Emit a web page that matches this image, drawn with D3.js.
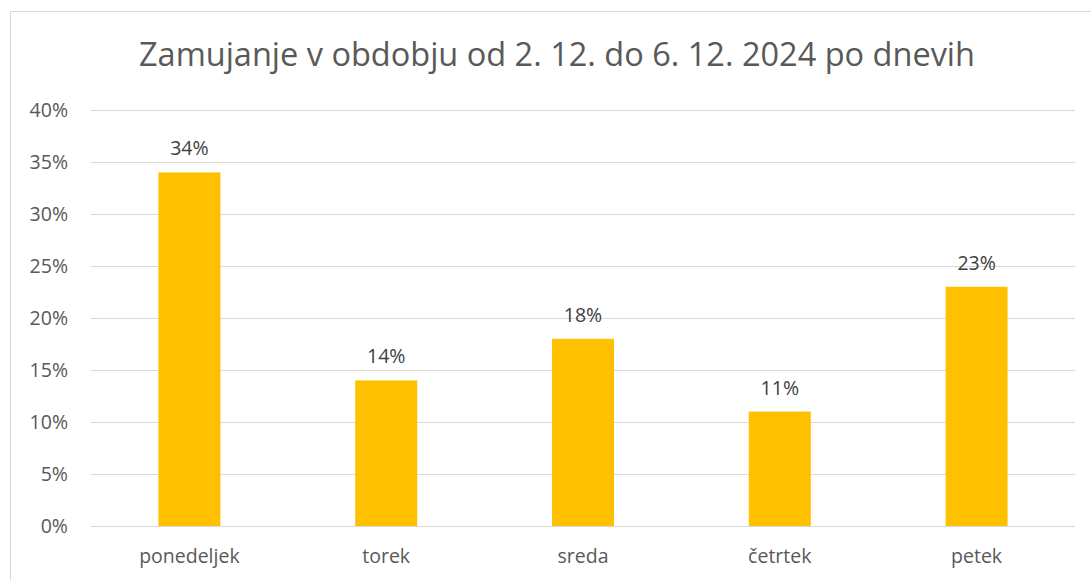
<!DOCTYPE html>
<html lang="sl">
<head>
<meta charset="UTF-8">
<title>Zamujanje po dnevih</title>
<script src="https://d3js.org/d3.v7.min.js"></script>
<style>
  body { margin: 0; background: #fff; }
  svg { display: block; font-family: "Open Sans", "Noto Sans", sans-serif; }
</style>
</head>
<body>
<script>
// data
const days = ["ponedeljek", "torek", "sreda", "četrtek", "petek"];
const lateShare = [0.34, 0.14, 0.18, 0.11, 0.23];
const yTicks = [0, 0.05, 0.10, 0.15, 0.20, 0.25, 0.30, 0.35, 0.40];
const title = "Zamujanje v obdobju od 2. 12. do 6. 12. 2024 po dnevih";

const W = 1091, H = 580;
const svg = d3.select("body").append("svg")
    .attr("width", W)
    .attr("height", H);

// chart frame
svg.append("rect")
    .attr("x", 10.5).attr("y", 11.5)
    .attr("width", W + 10).attr("height", H + 10)
    .attr("fill", "#fff")
    .attr("stroke", "#d9d9d9");

const plot = { left: 91, right: 1075, top: 110, bottom: 526 };

const x = d3.scaleBand()
    .domain(days)
    .range([plot.left, plot.right])
    .paddingInner(0.685)
    .paddingOuter(0.3425);

const y = d3.scaleLinear()
    .domain([0, 0.40])
    .range([plot.bottom, plot.top]);

// gridlines
svg.append("g")
    .selectAll("line")
    .data(yTicks)
    .join("line")
    .attr("x1", plot.left).attr("x2", plot.right)
    .attr("y1", d => Math.round(y(d)) + 0.5)
    .attr("y2", d => Math.round(y(d)) + 0.5)
    .attr("stroke", "#d9d9d9")
    .attr("stroke-width", 1);

// y axis labels
const pct = d3.format(".0%");
svg.append("g")
    .selectAll("text")
    .data(yTicks)
    .join("text")
    .attr("x", 68)
    .attr("y", d => y(d))
    .attr("dy", "0.35em")
    .attr("text-anchor", "end")
    .attr("font-size", 19.5)
    .attr("fill", "#595959")
    .text(d => pct(d));

// bars
svg.append("g")
    .selectAll("rect")
    .data(days)
    .join("rect")
    .attr("x", d => x(d))
    .attr("y", (d, i) => y(lateShare[i]))
    .attr("width", x.bandwidth())
    .attr("height", (d, i) => y(0) - y(lateShare[i]))
    .attr("fill", "#ffc000");

// value labels
svg.append("g")
    .selectAll("text")
    .data(days)
    .join("text")
    .attr("x", d => x(d) + x.bandwidth() / 2)
    .attr("y", (d, i) => y(lateShare[i]) - 17)
    .attr("text-anchor", "middle")
    .attr("font-size", 19.5)
    .attr("fill", "#404040")
    .text((d, i) => pct(lateShare[i]));

// category labels
svg.append("g")
    .selectAll("text")
    .data(days)
    .join("text")
    .attr("x", d => x(d) + x.bandwidth() / 2)
    .attr("y", 563)
    .attr("text-anchor", "middle")
    .attr("font-size", 19.5)
    .attr("fill", "#595959")
    .text(d => d);

// title
svg.append("text")
    .attr("x", 557)
    .attr("y", 66)
    .attr("text-anchor", "middle")
    .attr("font-size", 32.5)
    .attr("fill", "#595959")
    .text(title);
</script>
</body>
</html>
